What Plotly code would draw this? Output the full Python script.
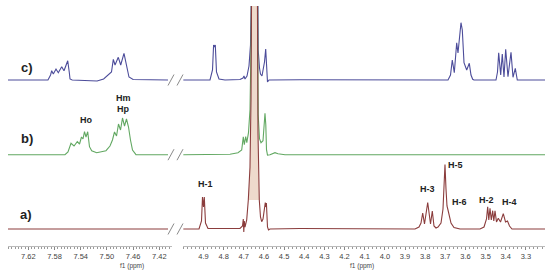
import plotly.graph_objects as go

# stacked 1H NMR spectra, broken ppm axis (aromatic | sugar region)
# intensities are heights above each spectrum's own baseline

c_left_ppm = [7.651, 7.590, 7.586, 7.5843, 7.5818, 7.5777, 7.5742, 7.5690, 7.5655, 7.5598, 7.5575,
              7.5563, 7.553, 7.515, 7.505, 7.500, 7.493, 7.4902, 7.4876, 7.4826, 7.4789, 7.4739,
              7.4715, 7.4690, 7.4663, 7.460, 7.4067]
c_left_int = [0, 0, 5, 9.3, 6, 11, 7.3, 13.3, 9.3, 19.3, 8,
              1, 0, -1, 1, 4, 8, 20.7, 15, 22.7, 15, 26.7,
              20, 12, 3, 0.5, 0]

b_left_ppm = [7.651, 7.564, 7.5594, 7.5548, 7.5502, 7.5452, 7.5418, 7.5388, 7.5365, 7.5342, 7.5319,
              7.5293, 7.5266, 7.5232, 7.5156, 7.5079, 7.5014, 7.4953, 7.4915, 7.4884, 7.4853, 7.4823,
              7.4792, 7.4762, 7.4731, 7.4701, 7.4670, 7.4640, 7.4609, 7.4556, 7.4067]
b_left_int = [0, 0, 2.7, 11.4, 8.7, 13, 10.7, 17.7, 15.7, 23, 17.7,
              23, 8, 4, 2, 3, 4, 8.7, 14.7, 22.7, 18.7, 30.7,
              24.7, 36.7, 28.7, 35.7, 27.7, 14.7, 4.7, 0, 0]

a_left_ppm = [7.651, 7.4067]
a_left_int = [0, 0]

c_right_ppm = [5.000, 4.8677, 4.8553, 4.8499, 4.8459, 4.8414, 4.8355, 4.8231, 4.7933, 4.7189,
               4.7040, 4.6990, 4.6940, 4.6841, 4.6742, 4.6667, 4.6618, 4.6608, 4.6330, 4.6285,
               4.6221, 4.6171, 4.6097, 4.5973, 4.5913, 4.5873, 4.5824, 4.5749, 4.4211, 3.6866,
               3.6742, 3.6653, 3.6553, 3.6434, 3.6370, 3.6221, 3.6156, 3.6072, 3.5938, 3.5809,
               3.5725, 3.5640, 3.5576, 3.4484, 3.4410, 3.4350, 3.4251, 3.4172, 3.4087, 3.4003,
               3.3889, 3.3739, 3.3640, 3.3526, 3.3427, 3.2052]
c_right_int = [0, 0, 10, 35, 33, 35, 8, 1, 0, 0.5,
               2, 4, 1, 4, 14, 35, 100, 200, 200, 30,
               12, 6, 4, 18, 31, 20, -2, 0, 0.3, 0,
               5, 20, 7.3, 37.3, 27, 57.3, 50, 17.3, 10, 16.7,
               5, 0.7, 0, 0, 8, 27.3, 5, 26, 3, 30.7,
               3.3, 27.7, 2.7, 11.7, 0, 0]

b_right_ppm = [5.000, 4.7685, 4.7288, 4.7104, 4.7025, 4.6975, 4.6906, 4.6851, 4.6767, 4.6692,
               4.6633, 4.6608, 4.6330, 4.6285, 4.6221, 4.6146, 4.6047, 4.5983, 4.5948, 4.5908,
               4.5873, 4.5824, 4.5700, 4.5452, 4.5303, 4.4955, 3.2052]
b_right_int = [0, 0.5, 2, 4.7, 18, 10, 18, 12, 22, 45,
               120, 200, 200, 40, 16, 12, 14, 30, 41.4, 30,
               5, -0.5, 0, 2, 1, 0, 0]

a_right_ppm = [5.000, 4.9223, 4.9099, 4.9050, 4.9000, 4.8960, 4.8901, 4.8777, 4.7189, 4.7064,
               4.7025, 4.7000, 4.6975, 4.6940, 4.6856, 4.6776, 4.6692, 4.6643, 4.6608, 4.6330,
               4.6295, 4.6231, 4.6171, 4.6112, 4.6047, 4.5973, 4.5933, 4.5903, 4.5878, 4.5824,
               4.5774, 4.5700, 4.4211, 3.8504, 3.8305, 3.8206, 3.8121, 3.8032, 3.7873, 3.7734,
               3.7645, 3.7561, 3.7462, 3.7362, 3.7213, 3.7114, 3.7050, 3.7015, 3.6965, 3.6916,
               3.6866, 3.6816, 3.6717, 3.6568, 3.6270, 3.5278, 3.5079, 3.4955, 3.4896, 3.4841,
               3.4782, 3.4717, 3.4648, 3.4593, 3.4533, 3.4459, 3.4370, 3.4260, 3.4122, 3.4012,
               3.3913, 3.3814, 3.3690, 3.2052]
a_right_int = [0, 0, 8, 32, 22, 32, 6, 0.5, 0.5, 3,
               10, -3, 8, 2, 9, 29, 62, 129, 260, 260,
               96, 29, 12, 7.3, 10, 20, 26.3, 22, 26, 2,
               -1, 0, 0.5, 0, 2, 6, 16, 5, 26.5, 5,
               18, 3, 1, 2, 6, 20, 45, 64.5, 40, 23,
               19, 14, 6, 1.5, 0, 0, 2, 10, 22.3, 9,
               20.7, 9, 18.3, 8, 18.3, 7, 10.7, 7, 15.3, 7,
               8, 3, 0, 0]

left_ticks = [7.62, 7.58, 7.54, 7.50, 7.46, 7.42]
right_ticks = [4.9, 4.8, 4.7, 4.6, 4.5, 4.4, 4.3, 4.2, 4.1, 4.0, 3.9, 3.8, 3.7, 3.6, 3.5, 3.4, 3.3]

trace_labels = ["a)", "b)", "c)"]
peak_labels = ["Ho", "Hm", "Hp", "H-1", "H-3", "H-5", "H-6", "H-2", "H-4"]

# styling / layout
W, H = 550, 276
MT, MB = 6, 30
OFFSET = {"a": 0, "b": 74.3, "c": 149}
COLOR = {"a": "#8b3d3d", "b": "#62a862", "c": "#4c4c9a"}


def px(x):
    return x / W


def py(y):
    return (H - MB - y) / (H - MT - MB)


fig = go.Figure()

# solvent peak column (dense overlapping lines in the original)
hod = [(p, v) for p, v in zip(a_right_ppm, a_right_int) if 4.62 < p < 4.68]
fig.add_trace(go.Scatter(x=[p for p, _ in hod], y=[v for _, v in hod], xaxis="x2", yaxis="y",
                         mode="lines", fill="toself", fillcolor="rgba(236,214,198,0.9)",
                         line=dict(width=0), hoverinfo="skip", showlegend=False))

spectra = [
    ("c", c_left_ppm, c_left_int, c_right_ppm, c_right_int),
    ("b", b_left_ppm, b_left_int, b_right_ppm, b_right_int),
    ("a", a_left_ppm, a_left_int, a_right_ppm, a_right_int),
]
for key, lp, li, rp, ri in spectra:
    off = OFFSET[key]
    fig.add_trace(go.Scatter(x=lp, y=[v + off for v in li], xaxis="x", yaxis="y", mode="lines",
                             line=dict(color=COLOR[key], width=1.1), showlegend=False))
    fig.add_trace(go.Scatter(x=rp, y=[v + off for v in ri], xaxis="x2", yaxis="y", mode="lines",
                             line=dict(color=COLOR[key], width=1.1), showlegend=False))

# axis break marks on every baseline
for key in ["a", "b", "c"]:
    for cx in (171, 180):
        fig.add_shape(type="line", xref="paper", yref="y",
                      x0=px(cx - 3), x1=px(cx + 3), y0=OFFSET[key] - 5.5, y1=OFFSET[key] + 5.5,
                      line=dict(color="#8a8a8a", width=1))

axis_common = dict(showgrid=False, zeroline=False, showline=True, linecolor="#bbbbbb", linewidth=1,
                   ticks="outside", ticklen=3, tickcolor="#888888",
                   tickfont=dict(family="Liberation Sans Narrow, Arial", size=7.5, color="#444444"),
                   anchor="y")
fig.update_layout(
    width=W, height=H, margin=dict(l=0, r=0, t=MT, b=MB),
    paper_bgcolor="white", plot_bgcolor="white",
    xaxis=dict(domain=[px(8), px(172)], range=[7.651, 7.4006], tickvals=left_ticks,
               tickformat=".2f",
               minor=dict(dtick=0.005, tick0=7.42, ticks="outside", ticklen=2, tickcolor="#999999"),
               **axis_common),
    xaxis2=dict(domain=[px(183), px(545)], range=[5.0017, 3.2052], tickvals=right_ticks,
                tickformat=".1f",
                minor=dict(dtick=0.02, tick0=3.3, ticks="outside", ticklen=2, tickcolor="#999999"),
                **axis_common),
    yaxis=dict(domain=[0, 1], range=[-17, 223], visible=False),
)

ann = []
bold = dict(family="Liberation Sans, Arial", color="#222222")
for text, (x, y) in zip(trace_labels, [(26, 214), (27, 138), (27, 67)]):
    ann.append(dict(text="<b>%s</b>" % text, x=px(x), y=py(y), font=dict(size=13, **bold)))
for text, (x, y) in zip(peak_labels, [(86, 120), (123, 97.5), (123, 108.5), (205, 184), (427, 189),
                                      (455, 165), (459, 202), (486.5, 199.5), (509.5, 201.5)]):
    ann.append(dict(text="<b>%s</b>" % text, x=px(x), y=py(y), font=dict(size=9, **bold)))
for x in (132, 362):
    ann.append(dict(text="f1 (ppm)", x=px(x), y=py(266),
                    font=dict(family="Liberation Sans Narrow, Arial", size=6.5, color="#444444")))
for a in ann:
    a.update(xref="paper", yref="paper", showarrow=False, xanchor="center", yanchor="middle")
fig.update_layout(annotations=ann)

# page body has a default 8px margin; drop it so the figure sits at the window corner
fig.write_html("out.html", config={"displayModeBar": False},
               post_script="document.body.style.margin='0';")
